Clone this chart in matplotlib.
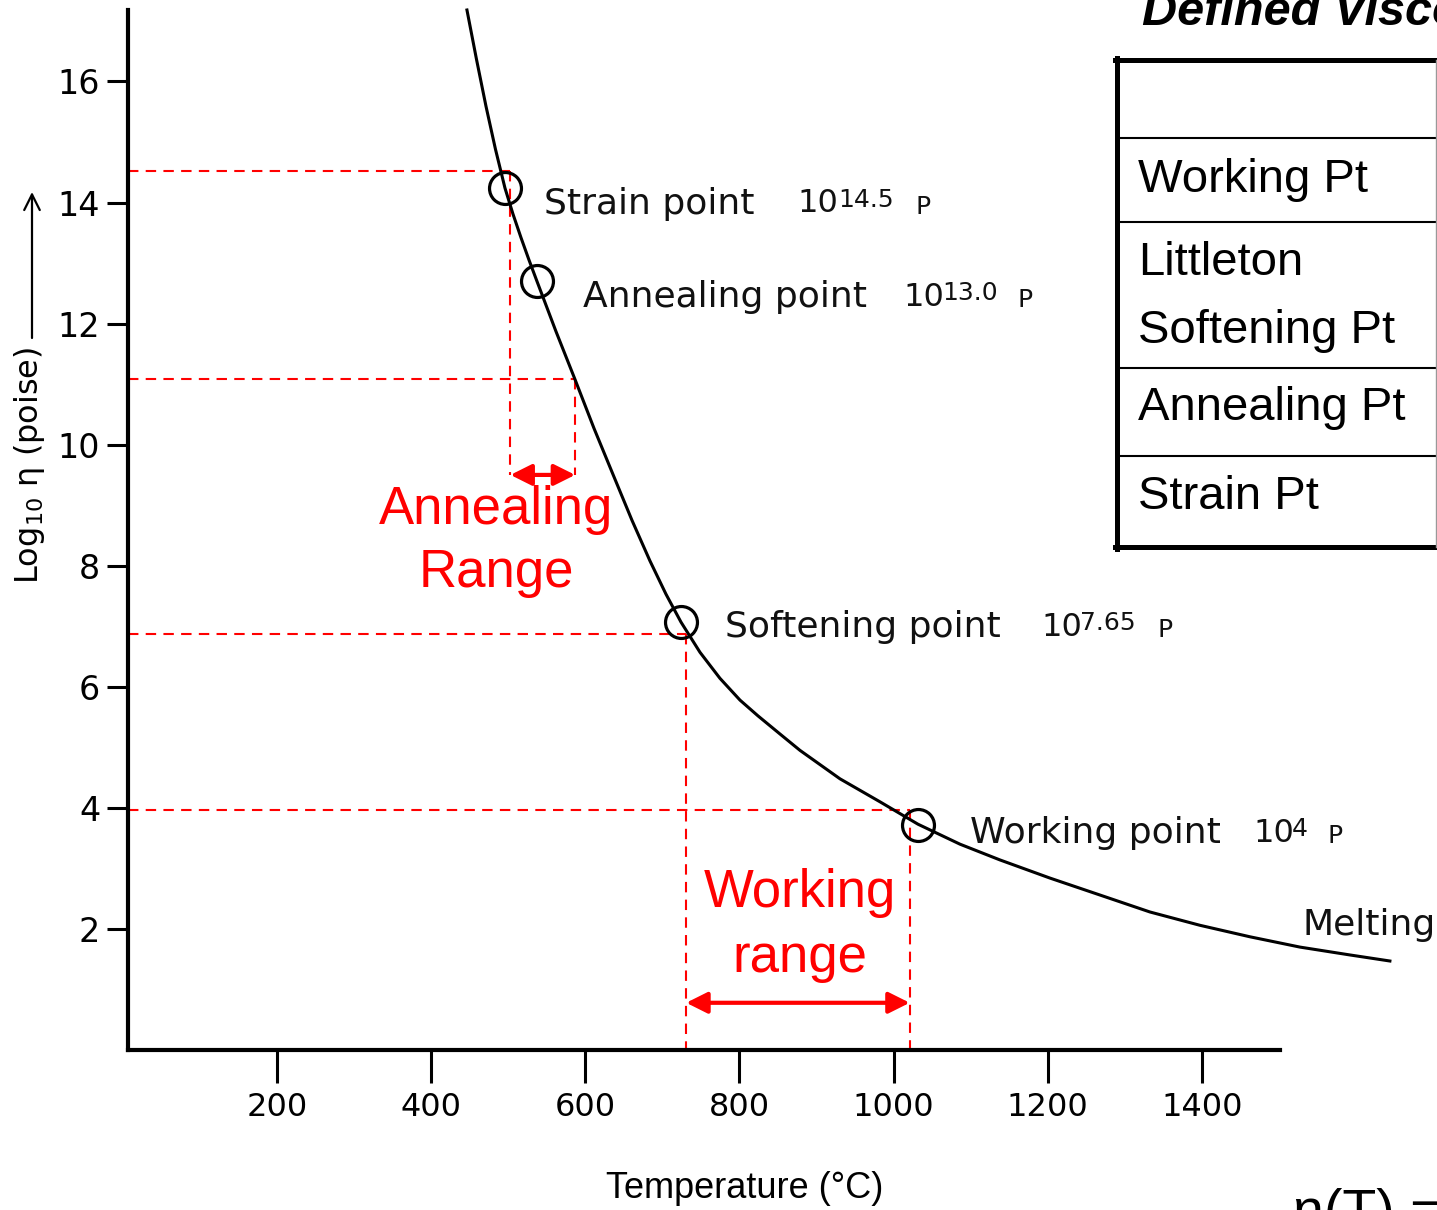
import matplotlib
matplotlib.use("Agg")
import matplotlib.pyplot as plt
from matplotlib.transforms import Affine2D
from matplotlib.lines import Line2D

# viscosity curve
temp_c = [446.6, 458.9, 471.3, 483.6, 495.9, 506.3, 516.7, 527.1, 537.4, 562.1,
          586.7, 611.4, 636.0, 660.7, 684.0, 704.8, 724.2, 748.9, 774.8, 800.8,
          824.1, 852.7, 878.6, 930.5, 982.4, 1031.7, 1086.2, 1138.0, 1202.9,
          1267.8, 1332.6, 1397.5, 1462.4, 1527.2, 1592.1, 1643.9]
log_visc = [17.18, 16.37, 15.59, 14.88, 14.24, 13.81, 13.42, 13.05, 12.70, 11.87,
            11.08, 10.27, 9.51, 8.75, 8.08, 7.53, 7.07, 6.57, 6.14, 5.78,
            5.52, 5.22, 4.95, 4.48, 4.10, 3.73, 3.40, 3.14, 2.84,
            2.56, 2.28, 2.06, 1.87, 1.70, 1.57, 1.47]

# marked points on the curve
point_names = ["Strain point", "Annealing point", "Softening point", "Working point"]
point_temp = [496, 538, 724, 1032]
point_logv = [14.24, 12.70, 7.07, 3.72]
point_exp = ["14.5", "13.0", "7.65", "4"]

# red guide lines (annealing range, working range)
anneal_temp = [503, 587]
anneal_logv = [14.52, 11.08]
anneal_arrow_v = 9.50
work_temp = [731, 1021]
work_logv = [6.87, 3.96]
work_arrow_v = 0.78

x_ticks = [200, 400, 600, 800, 1000, 1200, 1400]
y_ticks = [2, 4, 6, 8, 10, 12, 14, 16]

table_rows = ["Working Pt", "Littleton", "Softening Pt", "Annealing Pt", "Strain Pt"]

W, H = 1437, 1210
fig = plt.figure(figsize=(W / 100, H / 100), dpi=100)
px = Affine2D().scale(1 / W, -1 / H).translate(0, 1) + fig.transFigure

ax = fig.add_axes([128 / W, 1 - 1050 / H, (W - 128) / W, 1040 / H])
ax.patch.set_alpha(0)
ax.set_xlim(6.9, 1705)
ax.set_ylim(0, 17.18)
ax.spines["top"].set_visible(False)
ax.spines["right"].set_visible(False)
ax.spines["left"].set_linewidth(3)
ax.spines["bottom"].set_linewidth(3)
ax.spines["bottom"].set_bounds(6.9, 1501)

ax.set_xticks(x_ticks)
ax.set_xticklabels([str(t) for t in x_ticks])
ax.set_yticks(y_ticks)
ax.set_yticklabels([str(t) for t in y_ticks])
ax.tick_params(axis="x", direction="out", length=24, width=2.2, pad=6, labelsize=23)
ax.tick_params(axis="y", direction="out", length=15, width=2.2, pad=5, labelsize=24)

ax.plot(temp_c, log_visc, color="black", lw=2.2, clip_on=False, zorder=3,
        solid_joinstyle="round")
ax.plot(point_temp, point_logv, "o", ms=23, mfc="none", mec="black", mew=2.3,
        clip_on=False, zorder=4)

dash = (0, (5, 3.5))
red = "#FF0000"
# annealing range guides
ax.plot([6.9, anneal_temp[0]], [anneal_logv[0]] * 2, color=red, lw=1.5, ls=dash)
ax.plot([anneal_temp[0]] * 2, [anneal_logv[0], anneal_arrow_v], color=red, lw=1.5, ls=dash)
ax.plot([6.9, anneal_temp[1]], [anneal_logv[1]] * 2, color=red, lw=1.5, ls=dash)
ax.plot([anneal_temp[1]] * 2, [anneal_logv[1], anneal_arrow_v], color=red, lw=1.5, ls=dash)
# working range guides
ax.plot([6.9, work_temp[0]], [work_logv[0]] * 2, color=red, lw=1.5, ls=dash)
ax.plot([work_temp[0]] * 2, [work_logv[0], 0], color=red, lw=1.5, ls=dash)
ax.plot([6.9, work_temp[1]], [work_logv[1]] * 2, color=red, lw=1.5, ls=dash)
ax.plot([work_temp[1]] * 2, [work_logv[1], 0], color=red, lw=1.5, ls=dash)

arrow = dict(arrowstyle="<|-|>", color=red, lw=3, mutation_scale=32, shrinkA=0, shrinkB=0)
ax.annotate("", xy=(anneal_temp[0], anneal_arrow_v), xytext=(anneal_temp[1], anneal_arrow_v),
            arrowprops=arrow)
ax.annotate("", xy=(work_temp[0], work_arrow_v), xytext=(work_temp[1], work_arrow_v),
            arrowprops=arrow)

red_font = dict(color=red, fontsize=38, family="Liberation Sans", ha="center", va="center",
                transform=px)
fig.text(496, 510, "Annealing", **red_font)
fig.text(496, 573, "Range", **red_font)
fig.text(800, 893, "Working", **red_font)
fig.text(800, 958, "range", **red_font)

# point labels
label_x = [544, 583, 725, 970]
label_y = [204, 297, 627, 833]
pow_x = [797, 903, 1041, 1253]
exp_x = [838, 942, 1080, 1292]
p_x = [915, 1018, 1157, 1327]
ink = "#111111"
for i, name in enumerate(point_names):
    fig.text(label_x[i], label_y[i], name, fontsize=26, ha="left", va="center",
             transform=px, color=ink)
    fig.text(pow_x[i], label_y[i], "10", fontsize=23, ha="left", va="center",
             transform=px, color=ink)
    fig.text(exp_x[i], label_y[i] - 16, point_exp[i], fontsize=18, ha="left", va="top",
             transform=px, color=ink)
    fig.text(p_x[i], label_y[i] + 3, "P", fontsize=18, ha="left", va="center",
             transform=px, color=ink)
fig.text(1303, 925, "Melting", fontsize=26, ha="left", va="center", transform=px,
         color=ink)

# axis labels
fig.text(745, 1188, "Temperature (°C)", fontsize=26, family="Liberation Sans",
         ha="center", va="center", transform=px)
fig.text(30, 465, "Log$_{10}$ η (poise)", fontsize=23, rotation=90, ha="center",
         va="center", transform=px)
ax.annotate("", xy=(32, 192), xytext=(32, 338), xycoords=px, textcoords=px,
            arrowprops=dict(arrowstyle="->", lw=1.6, color="black", mutation_scale=28,
                            shrinkA=0, shrinkB=0), annotation_clip=False)

# slide table on the right
fig.add_artist(Line2D([1117, 1117], [58, 549], color="black", lw=3.6, transform=px))
fig.add_artist(Line2D([1115, W], [60, 60], color="black", lw=3.6, transform=px))
fig.add_artist(Line2D([1115, W], [547, 547], color="black", lw=3.6, transform=px))
for yy in [138, 222, 368, 456]:
    fig.add_artist(Line2D([1117, W], [yy, yy], color="black", lw=1.5, transform=px))
fig.add_artist(Line2D([1436, 1436], [60, 547], color="#999999", lw=1, transform=px))
row_y = [180, 263, 331, 408, 497]
for name, yy in zip(table_rows, row_y):
    fig.text(1138, yy, name, fontsize=34, family="Liberation Sans", ha="left",
             va="center", transform=px)

fig.text(1142, 25, "Defined Viscosity Points", fontsize=35, family="Liberation Sans",
         weight="bold", style="italic", ha="left", va="baseline", transform=px)
fig.text(1293, 1188, "η(T) = ", fontsize=40, family="Liberation Sans", ha="left",
         va="top", transform=px)

fig.savefig("out.png", dpi=100)
